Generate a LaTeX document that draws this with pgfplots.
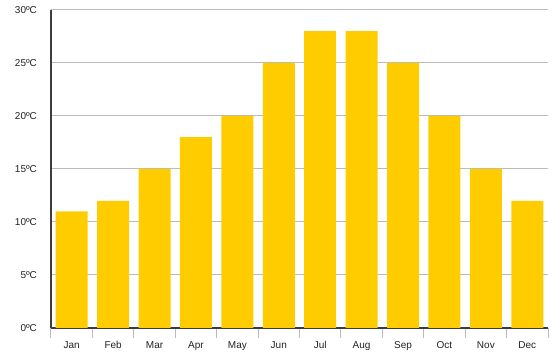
\documentclass[border=0pt]{standalone}
\usepackage{fontspec}
\setmainfont{Liberation Sans}
\usepackage{pgfplots}
\pgfplotsset{compat=1.18}
\pgfplotsset{layers/mylayers/.define layer set={axis background,axis grid,pre main,main,axis ticks,axis lines,axis tick labels,axis descriptions,axis foreground}{}}
\definecolor{barc}{HTML}{FFCC00}
\definecolor{gridc}{HTML}{BBBBBB}
\definecolor{axc}{HTML}{3C3C3C}
\definecolor{txt}{HTML}{222222}
\begin{document}
\begin{tikzpicture}
\begin{axis}[
  set layers=mylayers,
  at={(0,0)}, anchor=south west,
  scale only axis,
  width=372.75pt, height=238.5pt,
  xmin=-0.5, xmax=11.5,
  ymin=0, ymax=30,
  axis x line*=bottom,
  axis y line*=left,
  x axis line style={draw=axc, line width=1.7pt},
  y axis line style={draw=axc, line width=2pt},
  xtick={0,...,11},
  xticklabels={Jan,Feb,Mar,Apr,May,Jun,Jul,Aug,Sep,Oct,Nov,Dec},
  minor xtick={-0.5,0.5,...,11.5},
  major tick length=0pt,
  minor tick length=7.5pt,
  tick align=outside,
  minor tick style={gridc, line width=0.75pt},
  ytick={0,5,...,30},
  ymajorgrids,
  grid style={gridc, line width=0.75pt},
  yticklabel={\pgfmathprintnumber{\tick}ºC},
  /pgf/number format/assume math mode=true,
  ticklabel style={font=\fontsize{7.5}{9}\selectfont, text=txt},
  typeset ticklabels with strut,
  xticklabel style={yshift=-5.5pt},
  yticklabel style={xshift=-7pt},
  clip=false,
]
\addplot[ybar, bar width=0.773, fill=barc, draw=none] coordinates {
(0,11) (1,12) (2,15) (3,18) (4,20) (5,25) (6,28) (7,28) (8,25) (9,20) (10,15) (11,12)};
\end{axis}
\path[use as bounding box] (-38.25pt,-24pt) rectangle (381.75pt,246pt);
\end{tikzpicture}
\end{document}
